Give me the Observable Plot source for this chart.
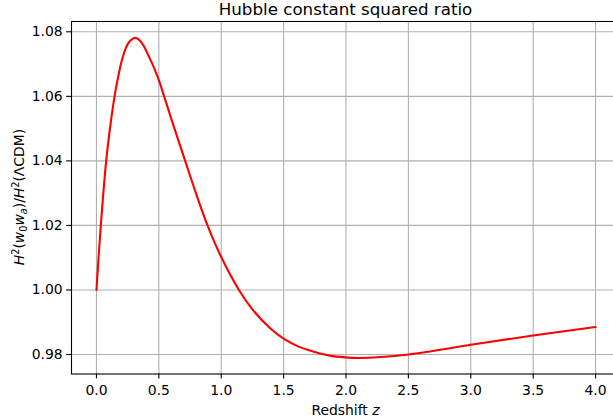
<!DOCTYPE html>
<html>
<head>
<meta charset="utf-8">
<script src="https://cdn.jsdelivr.net/npm/d3@7"></script>
<script src="https://cdn.jsdelivr.net/npm/@observablehq/plot@0.6"></script>
<style>
  html, body { margin: 0; padding: 0; background: white; }
  svg { display: block; }
</style>
</head>
<body>
<div id="chart"></div>
<script>
const titleText = "Hubble constant squared ratio";
const zValues = [0, 0.035, 0.078, 0.11, 0.145, 0.18, 0.208, 0.244, 0.27, 0.303, 0.34, 0.376, 0.422, 0.46, 0.50, 0.54, 0.60, 0.711, 0.80, 0.89, 1.0, 1.142, 1.25, 1.39, 1.5, 1.62, 1.75, 1.87, 2.0, 2.1, 2.5, 3.0, 3.5, 4.0];
const ratioValues = [1.000, 1.020, 1.040, 1.0505, 1.0600, 1.0672, 1.0718, 1.0757, 1.0772, 1.0781, 1.0776, 1.0758, 1.0722, 1.0690, 1.0650, 1.0603, 1.0530, 1.040, 1.0297, 1.020, 1.0102, 1.000, 0.9940, 0.9882, 0.9849, 0.98245, 0.9808, 0.97966, 0.9791, 0.9789, 0.9800, 0.9830, 0.9859, 0.9885];
const xTicks = [0, 0.5, 1.0, 1.5, 2.0, 2.5, 3.0, 3.5, 4.0];
const yTicks = [0.98, 1.00, 1.02, 1.04, 1.06, 1.08];

const data = zValues.map((z, i) => ({z, r: ratioValues[i]}));

const chart = Plot.plot({
  width: 613,
  height: 420,
  marginLeft: 71,
  marginRight: -7,
  marginTop: 21,
  marginBottom: 46.5,
  x: {domain: [-0.2, 4.2]},
  y: {domain: [0.97396, 1.08319]},
  style: {fontFamily: "DejaVu Sans", fontSize: "13.9px", color: "black", background: "white", overflow: "hidden"},
  marks: [
    Plot.gridX(xTicks, {stroke: "#b0b0b0", strokeOpacity: 1, strokeWidth: 1.1}),
    Plot.gridY(yTicks, {stroke: "#b0b0b0", strokeOpacity: 1, strokeWidth: 1.1}),
    Plot.line(data, {x: "z", y: "r", stroke: "red", strokeWidth: 2.1, curve: "catmull-rom"}),
    Plot.axisX(xTicks, {tickSize: 4.9, tickPadding: 6, tickFormat: d3.format(".1f"), label: null, strokeWidth: 1.1, fontSize: "13.9px"}),
    Plot.axisY(yTicks, {tickSize: 4.9, tickPadding: 4, tickFormat: d3.format(".2f"), label: null, strokeWidth: 1.1, fontSize: "13.9px"}),
    Plot.frame({stroke: "black", strokeWidth: 1.1})
  ]
});

document.getElementById("chart").appendChild(chart);

const svg = d3.select(chart);
svg.append("text")
  .attr("x", 345.5).attr("y", 15)
  .attr("text-anchor", "middle")
  .attr("font-family", "DejaVu Sans")
  .attr("font-size", "16.7px")
  .attr("fill", "black")
  .text(titleText);

const xl = svg.append("text")
  .attr("x", 345.5).attr("y", 415)
  .attr("text-anchor", "middle")
  .attr("font-family", "DejaVu Sans")
  .attr("font-size", "13.9px")
  .attr("fill", "black");
xl.append("tspan").text("Redshift ");
xl.append("tspan").attr("font-style", "italic").text("z");

const yl = svg.append("text")
  .attr("transform", "translate(24,197) rotate(-90)")
  .attr("text-anchor", "middle")
  .attr("font-family", "DejaVu Sans")
  .attr("font-size", "13.9px")
  .attr("fill", "black");
const parts = [
  {t: "H", it: true, dy: 0},
  {t: "2", small: true, dy: -5.5},
  {t: "(", dy: 5.5},
  {t: "w", it: true, dy: 0},
  {t: "0", small: true, dy: 2.5},
  {t: "w", it: true, dy: -2.5},
  {t: "a", it: true, small: true, dy: 2.5},
  {t: ")/", dy: -2.5},
  {t: "H", it: true, dy: 0},
  {t: "2", small: true, dy: -5.5},
  {t: "(ΛCDM)", dy: 5.5}
];
parts.forEach(p => {
  const ts = yl.append("tspan").attr("dy", p.dy).text(p.t);
  if (p.it) ts.attr("font-style", "italic");
  if (p.small) ts.attr("font-size", "9.7px");
});
</script>
</body>
</html>
